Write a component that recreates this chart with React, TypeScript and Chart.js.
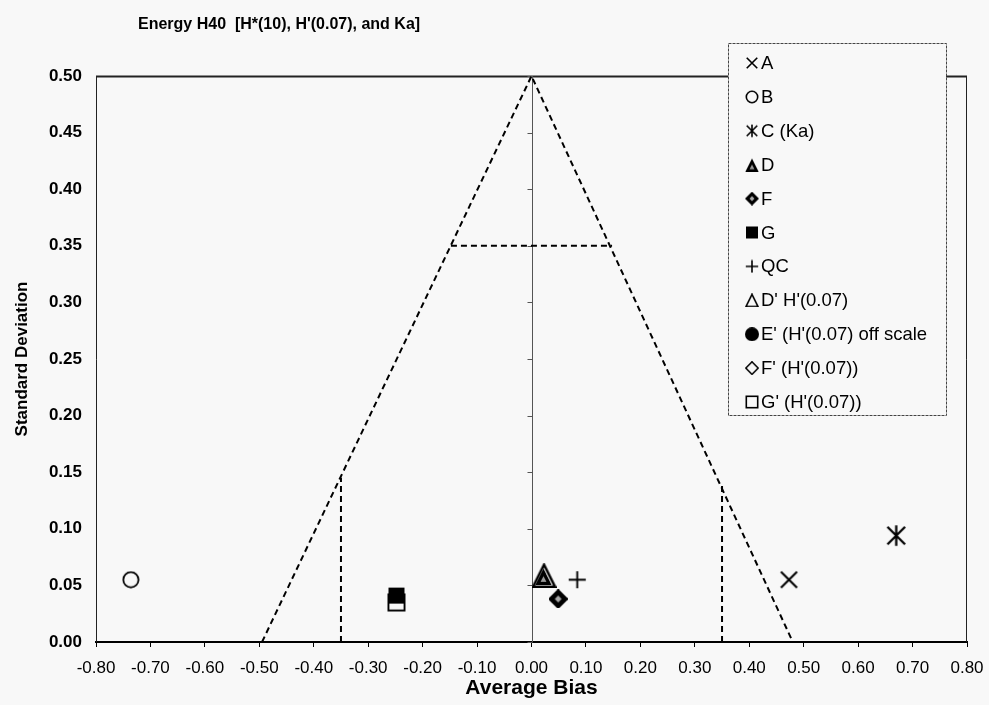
import React, { useEffect, useRef } from 'react';
import { Chart, registerables } from 'chart.js';

Chart.register(...registerables);

// ---- data ----
const chartTitle = "Energy H40  [H*(10), H'(0.07), and Ka]";
const xAxisTitle = 'Average Bias';
const yAxisTitle = 'Standard Deviation';

const seriesLabels = ['A', 'B', 'C (Ka)', 'D', 'F', 'G', 'QC', "D' H'(0.07)", "E' (H'(0.07) off scale", "F' (H'(0.07))", "G' (H'(0.07))"];
const seriesMarkers = ['x', 'circle', 'asterisk', 'triFilled', 'diamondFilled', 'squareFilled', 'plus', 'triOpen', 'dot', 'diamondOpen', 'squareOpen'];

const biasA = [0.473];
const sdA = [0.055];
const biasB = [-0.736];
const sdB = [0.055];
const biasC = [0.67];
const sdC = [0.094];
const biasD = [0.022];
const sdD = [0.058];
const biasF = [0.049];
const sdF = [0.038];
const biasG = [-0.248];
const sdG = [0.041];
const biasQC = [0.084];
const sdQC = [0.055];
const biasDp = [0.023];
const sdDp = [0.059];
const biasEp: number[] = [];
const sdEp: number[] = [];
const biasFp = [0.049];
const sdFp = [0.038];
const biasGp = [-0.248];
const sdGp = [0.035];

const seriesBias = [biasA, biasB, biasC, biasD, biasF, biasG, biasQC, biasDp, biasEp, biasFp, biasGp];
const seriesSd = [sdA, sdB, sdC, sdD, sdF, sdG, sdQC, sdDp, sdEp, sdFp, sdGp];

// funnel / limit lines
const funnelBias = [-0.495, 0, 0.48];
const funnelSd = [0, 0.5, 0];
const band35Bias = [-0.148, 0.148];
const band35Sd = [0.35, 0.35];
const leftLimitBias = [-0.35, -0.35];
const leftLimitSd = [0, 0.145];
const rightLimitBias = [0.35, 0.35];
const rightLimitSd = [0, 0.14];

const xMin = -0.8, xMax = 0.8, xStep = 0.1;
const yMin = 0, yMax = 0.5, yStep = 0.05;

// ---- style ----
const BG = '#f8f8f8';
const FONT = '"Liberation Sans", Arial, sans-serif';
const markerSizes: Record<string, number> = {
  x: 21, circle: 18, asterisk: 23, triFilled: 17, diamondFilled: 19, squareFilled: 18,
  plus: 19, triOpen: 25, dot: 14, diamondOpen: 19, squareOpen: 19,
};

function makeMarker(kind: string, s: number): HTMLCanvasElement {
  const c = document.createElement('canvas');
  c.width = s; c.height = s;
  const g = c.getContext('2d')!;
  const m = s / 2;
  const lw = Math.max(1.6, s / 10);
  g.strokeStyle = '#000';
  g.fillStyle = '#000';
  g.lineWidth = lw;
  const r = s / 2 - lw / 2;
  const tri = (rr: number, cy: number) => {
    g.beginPath();
    g.moveTo(m, cy - rr);
    g.lineTo(m + rr * 0.87, cy + rr * 0.75);
    g.lineTo(m - rr * 0.87, cy + rr * 0.75);
    g.closePath();
  };
  const dia = (rr: number) => {
    g.beginPath();
    g.moveTo(m, m - rr); g.lineTo(m + rr, m); g.lineTo(m, m + rr); g.lineTo(m - rr, m);
    g.closePath();
  };
  switch (kind) {
    case 'x': {
      const d = r * 0.85;
      g.beginPath();
      g.moveTo(m - d, m - d); g.lineTo(m + d, m + d);
      g.moveTo(m + d, m - d); g.lineTo(m - d, m + d);
      g.stroke();
      break;
    }
    case 'asterisk': {
      const d = r * 0.85;
      g.beginPath();
      g.moveTo(m - d, m - d); g.lineTo(m + d, m + d);
      g.moveTo(m + d, m - d); g.lineTo(m - d, m + d);
      g.moveTo(m, m - r); g.lineTo(m, m + r);
      g.stroke();
      break;
    }
    case 'circle':
      g.beginPath(); g.arc(m, m, r - 0.5, 0, Math.PI * 2); g.stroke();
      break;
    case 'dot':
      g.beginPath(); g.arc(m, m, s / 2, 0, Math.PI * 2); g.fill();
      break;
    case 'plus':
      g.beginPath();
      g.moveTo(m - r, m); g.lineTo(m + r, m);
      g.moveTo(m, m - r); g.lineTo(m, m + r);
      g.stroke();
      break;
    case 'triFilled':
      tri(s * 0.55, m + s * 0.1); g.fill();
      g.fillStyle = '#9a9a9a';
      tri(s * 0.2, m + s * 0.18); g.fill();
      break;
    case 'triOpen':
      tri(s * 0.5, m + s * 0.08); g.stroke();
      break;
    case 'diamondFilled':
      dia(s / 2); g.fill();
      g.fillStyle = '#aaaaaa';
      dia(s * 0.18); g.fill();
      break;
    case 'diamondOpen':
      dia(r); g.stroke();
      break;
    case 'squareFilled':
      g.fillRect(1, 1, s - 2, s - 2);
      break;
    case 'squareOpen':
      g.strokeRect(lw / 2 + 0.5, lw / 2 + 0.5, s - lw - 1, s - lw - 1);
      break;
  }
  return c;
}

export default function App() {
  const ref = useRef<HTMLCanvasElement>(null);

  useEffect(() => {
    document.body.style.margin = '0';
    document.body.style.background = BG;
    const markers = seriesMarkers.map((k) => makeMarker(k, markerSizes[k]));
    const legendMarkers = seriesMarkers.map((k) => makeMarker(k, 14));

    const lineDs = (bias: number[], sd: number[]) => ({
      data: bias.map((b, i) => ({ x: b, y: sd[i] })),
      showLine: true,
      borderColor: '#000',
      borderWidth: 2,
      borderDash: [6, 4],
      pointRadius: 0,
      pointHoverRadius: 0,
      fill: false,
    });

    const pointDatasets = seriesLabels.map((label, i) => ({
      label,
      data: seriesBias[i].map((b, j) => ({ x: b, y: seriesSd[i][j] })),
      pointStyle: markers[i],
      showLine: false,
    }));

    const overlay = {
      id: 'overlay',
      beforeDraw(chart: any) {
        const { ctx, width, height } = chart;
        ctx.save();
        ctx.fillStyle = BG;
        ctx.fillRect(0, 0, width, height);
        ctx.restore();
      },
      beforeDatasetsDraw(chart: any) {
        const { ctx, chartArea, scales } = chart;
        const { left, top, right, bottom } = chartArea;
        ctx.save();
        ctx.strokeStyle = '#222';
        ctx.lineWidth = 1;
        ctx.beginPath();
        ctx.moveTo(left + 0.5, bottom);
        ctx.lineTo(left + 0.5, top + 0.5);
        ctx.lineTo(right - 0.5, top + 0.5);
        ctx.lineTo(right - 0.5, bottom);
        ctx.stroke();
        ctx.lineWidth = 2;
        ctx.beginPath();
        ctx.moveTo(left, top + 0.5);
        ctx.lineTo(right, top + 0.5);
        ctx.stroke();
        const x0 = Math.round(scales.x.getPixelForValue(0)) + 0.5;
        ctx.strokeStyle = '#555';
        ctx.lineWidth = 1;
        ctx.beginPath();
        ctx.moveTo(x0, top);
        ctx.lineTo(x0, bottom);
        scales.y.ticks.forEach((t: any) => {
          const py = Math.round(scales.y.getPixelForValue(t.value)) + 0.5;
          ctx.moveTo(x0 - 5, py);
          ctx.lineTo(x0, py);
        });
        ctx.stroke();
        ctx.restore();
      },
      afterDraw(chart: any) {
        const { ctx } = chart;
        ctx.save();
        ctx.fillStyle = '#000';
        ctx.font = `bold 16px ${FONT}`;
        ctx.textAlign = 'left';
        ctx.textBaseline = 'middle';
        ctx.fillText(chartTitle, 138, 25);
        const bx = 728, by = 43, bw = 218, bh = 372;
        ctx.fillStyle = BG;
        ctx.fillRect(bx, by, bw, bh);
        ctx.strokeStyle = '#444';
        ctx.lineWidth = 1;
        ctx.setLineDash([3, 1]);
        ctx.strokeRect(bx + 0.5, by + 0.5, bw, bh);
        ctx.setLineDash([]);
        ctx.font = `18.5px ${FONT}`;
        ctx.fillStyle = '#000';
        seriesLabels.forEach((label, i) => {
          const cy = 63 + i * 33.9;
          const mk = legendMarkers[i];
          ctx.drawImage(mk, 752 - mk.width / 2, cy - mk.height / 2);
          ctx.fillText(label, 761, cy + 1);
        });
        ctx.restore();
      },
    };

    const chart = new Chart(ref.current!, {
      type: 'scatter',
      data: {
        datasets: [
          lineDs(funnelBias, funnelSd),
          lineDs(band35Bias, band35Sd),
          lineDs(leftLimitBias, leftLimitSd),
          lineDs(rightLimitBias, rightLimitSd),
          ...pointDatasets,
        ] as any,
      },
      options: {
        responsive: false,
        animation: false,
        events: [],
        layout: { padding: { top: 76, right: 22, bottom: 0, left: 0 } },
        plugins: {
          legend: { display: false },
          title: { display: false },
          tooltip: { enabled: false },
        },
        scales: {
          x: {
            type: 'linear',
            min: xMin,
            max: xMax,
            afterFit: (s: any) => { s.height = 63; s.paddingLeft = 0; s.paddingRight = 0; },
            ticks: {
              stepSize: xStep,
              color: '#000',
              font: { family: FONT, size: 17 },
              padding: 11,
              maxRotation: 0,
              autoSkip: false,
              callback: (v: any) => Number(v).toFixed(2),
            },
            grid: { display: true, drawOnChartArea: false, drawTicks: true, tickLength: 5, color: '#000' },
            border: { display: true, color: '#000', width: 2 },
            title: {
              display: true,
              text: xAxisTitle,
              color: '#000',
              font: { family: FONT, size: 21, weight: 'bold' },
              padding: { top: 0, bottom: 4 },
            },
          },
          y: {
            type: 'linear',
            min: yMin,
            max: yMax,
            afterFit: (s: any) => { s.width = 96; s.paddingTop = 0; s.paddingBottom = 0; },
            ticks: {
              stepSize: yStep,
              color: '#000',
              font: { family: FONT, size: 17, weight: 'bold' },
              padding: 14,
              autoSkip: false,
              callback: (v: any) => Number(v).toFixed(2),
            },
            grid: { display: false, drawTicks: false },
            border: { display: false },
            title: {
              display: true,
              text: yAxisTitle,
              color: '#000',
              font: { family: FONT, size: 17, weight: 'bold' },
              padding: { top: 12, bottom: 0 },
            },
          },
        },
      } as any,
      plugins: [overlay],
    });
    return () => chart.destroy();
  }, []);

  return <canvas ref={ref} width={989} height={705} style={{ display: 'block' }} />;
}
